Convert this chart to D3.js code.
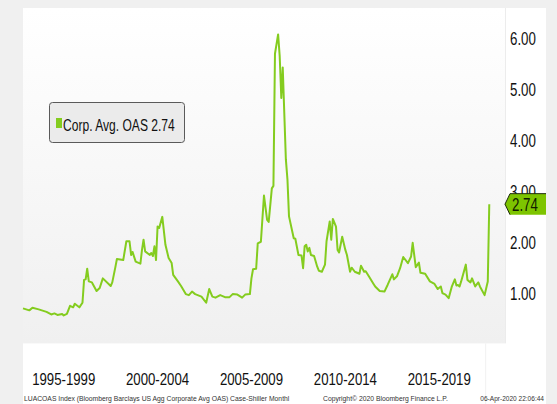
<!DOCTYPE html>
<html>
<head>
<meta charset="utf-8">
<script src="https://cdn.jsdelivr.net/npm/d3@7"></script>
<style>
  html, body { margin: 0; padding: 0; background: #f0f0f0; }
  svg { display: block; }
  text { font-family: "Liberation Sans", Arial, sans-serif; }
</style>
</head>
<body>
<svg id="chart" width="557" height="404"></svg>
<script>
// ---- data ----
const months = [
  "1995-05","1995-09","1995-11","1996-03","1996-08","1996-11","1997-01","1997-03","1997-06","1997-07",
  "1997-09","1997-11","1998-01","1998-02","1998-05","1998-07","1998-08","1998-09","1998-10","1998-11",
  "1999-01","1999-04","1999-06","1999-08","2000-01","2000-02","2000-04","2000-05","2000-09","2000-11",
  "2001-01","2001-02","2001-03","2001-05","2001-08","2001-09","2001-10","2001-11","2002-02","2002-03",
  "2002-04","2002-05","2002-06","2002-07","2002-08","2002-10","2002-12","2003-02","2003-04","2003-05",
  "2003-08","2003-10","2004-01","2004-03","2004-05","2004-07","2004-11","2005-02","2005-04","2005-06",
  "2005-08","2005-11","2006-02","2006-05","2006-07","2006-10","2007-01","2007-03","2007-06","2007-07",
  "2007-08","2007-10","2007-11","2008-01","2008-03","2008-05","2008-06","2008-08","2008-09","2008-10",
  "2008-12","2009-01","2009-02","2009-03","2009-05","2009-06","2009-07","2009-10","2009-11","2010-01",
  "2010-03","2010-04","2010-05","2010-06","2010-07","2010-08","2010-09","2010-11","2011-01","2011-02",
  "2011-04","2011-06","2011-07","2011-09","2011-10","2011-11","2012-01","2012-02","2012-03","2012-05",
  "2012-07","2012-08","2012-10","2012-11","2013-01","2013-04","2013-05","2013-07","2013-08","2013-10",
  "2014-01","2014-02","2014-05","2014-08","2014-10","2015-01","2015-02","2015-04","2015-06","2015-08",
  "2015-11","2016-01","2016-02","2016-04","2016-06","2016-07","2016-10","2017-01","2017-04","2017-06",
  "2017-08","2017-09","2017-11","2018-01","2018-03","2018-05","2018-06","2018-07","2018-08","2018-09",
  "2018-12","2019-01","2019-03","2019-04","2019-06","2019-08","2019-09","2019-12","2020-02","2020-03"
];
const oas = [
  0.69,0.65,0.70,0.67,0.62,0.57,0.59,0.56,0.58,0.55,
  0.58,0.74,0.71,0.78,0.71,0.80,1.25,1.26,1.47,1.22,
  1.20,1.03,1.09,1.28,1.13,1.20,1.50,1.66,1.64,2.01,
  2.01,1.74,1.80,1.61,1.57,1.84,2.04,1.81,1.74,1.78,
  1.72,1.91,1.64,2.30,2.27,2.49,1.94,1.68,1.58,1.35,
  1.22,1.13,0.97,0.95,1.02,0.97,0.92,0.80,1.07,0.92,
  0.90,0.95,0.91,0.91,0.97,0.96,0.90,0.96,0.97,1.28,
  1.46,1.47,1.97,2.00,2.91,2.43,2.39,3.05,3.10,5.70,
  6.08,5.65,4.83,5.43,3.62,3.22,2.50,2.07,2.06,1.74,
  1.73,1.48,1.91,1.94,1.81,1.88,1.74,1.72,1.51,1.43,
  1.41,1.55,2.01,2.40,2.04,2.45,2.30,1.84,1.79,2.10,
  1.84,1.74,1.41,1.49,1.41,1.37,1.53,1.41,1.42,1.32,
  1.17,1.12,1.03,1.02,1.15,1.36,1.26,1.32,1.48,1.70,
  1.58,1.71,1.98,1.50,1.59,1.39,1.37,1.22,1.17,1.07,
  1.12,0.99,0.96,0.89,1.11,1.26,1.14,1.15,1.12,1.22,
  1.55,1.25,1.20,1.28,1.12,1.20,1.12,0.95,1.22,2.74
];
const yTicks = [1, 2, 3, 4, 5, 6];
const periodLabels = ["1995-1999", "2000-2004", "2005-2009", "2010-2014", "2015-2019"];
const periodStarts = [1995, 2000, 2005, 2010, 2015];
const seriesName = "Corp. Avg. OAS";
const lastValue = 2.74;
const footerLeft = "LUACOAS Index (Bloomberg Barclays US Agg Corporate Avg OAS) Case-Shiller  Monthl";
const footerMid = "Copyright\u00A9 2020 Bloomberg Finance L.P.";
const footerRight = "06-Apr-2020 22:06:44";

// ---- layout ----
const W = 557, H = 404;
const panel = { x: 23, y: 8, w: 523, h: 396 };
const plot = { left: 23, right: 505, top: 8, bottom: 343.4 };
const lineColor = "#84cc1f";
const narrow = 0.74;

const parse = d3.timeParse("%Y-%m");
const data = months.map((m, i) => ({ date: parse(m), value: oas[i] }));

const x = d3.scaleTime()
  .domain([parse("1995-05"), parse("2021-01")])
  .range([plot.left, plot.right]);
const y = d3.scaleLinear()
  .domain([0, 6.6])
  .range([plot.bottom, plot.top]);

const svg = d3.select("#chart");

// outer background
svg.append("rect").attr("width", W).attr("height", H).attr("fill", "#f0f0f0");
// white panel
svg.append("rect").attr("x", panel.x).attr("y", panel.y)
  .attr("width", panel.w).attr("height", panel.h).attr("fill", "#ffffff");

// plot gradient
const defs = svg.append("defs");
const grad = defs.append("linearGradient").attr("id", "bg")
  .attr("x1", 0).attr("y1", 0).attr("x2", 0).attr("y2", 1);
grad.append("stop").attr("offset", "0%").attr("stop-color", "#ffffff");
grad.append("stop").attr("offset", "100%").attr("stop-color", "#f0f0f0");
svg.append("rect").attr("x", plot.left).attr("y", plot.top)
  .attr("width", plot.right - plot.left).attr("height", plot.bottom - plot.top)
  .attr("fill", "url(#bg)");
svg.append("line").attr("x1", plot.right + 0.5).attr("x2", plot.right + 0.5)
  .attr("y1", plot.top).attr("y2", plot.bottom)
  .attr("stroke", "#ececec").attr("stroke-width", 1);
// faint separator below plot
svg.append("line").attr("x1", x(parse("2020-01")) - 0.5).attr("x2", x(parse("2020-01")) - 0.5)
  .attr("y1", plot.bottom).attr("y2", H)
  .attr("stroke", "#f1f1f1").attr("stroke-width", 1);

// series line
const line = d3.line().x(d => x(d.date)).y(d => y(d.value));
svg.append("path").datum(data)
  .attr("d", line)
  .attr("fill", "none")
  .attr("stroke", lineColor)
  .attr("stroke-width", 2)
  .attr("stroke-linejoin", "round");

// right axis (the 3.00 label sits partly behind the value tag, as in the reference)
const yAxis = d3.axisRight(y).tickValues(yTicks).tickFormat(d3.format(".2f"))
  .tickSize(0).tickPadding(0);
const gy = svg.append("g").attr("transform", "translate(510,0)").call(yAxis);
gy.select(".domain").remove();
gy.selectAll("text")
  .attr("x", 0).attr("dy", "0.36em")
  .attr("transform", `scale(${narrow},1)`)
  .attr("font-size", 18).attr("fill", "#111")
  .attr("font-family", "Liberation Sans, Arial, sans-serif")
  .attr("text-anchor", "start");

// last value tag
const ty = y(lastValue);
const tagL = 505, tagR = 546, tagH = 21;
svg.append("path")
  .attr("d", `M${tagL},${ty} L${tagL + 5},${ty - tagH / 2} L${tagR},${ty - tagH / 2} L${tagR},${ty + tagH / 2} L${tagL + 5},${ty + tagH / 2} Z`)
  .attr("fill", "#7dc400");
svg.append("path")
  .attr("d", `M${tagL + 5},${ty + tagH / 2} L${tagL},${ty} L${tagL + 5},${ty - tagH / 2} L${tagR},${ty - tagH / 2}`)
  .attr("fill", "none").attr("stroke", "#1d2a0a").attr("stroke-width", 1);
svg.append("text")
  .attr("transform", `translate(512,${ty}) scale(${narrow},1)`)
  .attr("dy", "0.36em")
  .attr("font-size", 18).attr("fill", "#0f1a00")
  .text(d3.format(".2f")(lastValue));

// x period labels
svg.selectAll("text.period").data(periodLabels).join("text")
  .attr("class", "period")
  .attr("transform", (d, i) => `translate(${x(new Date(periodStarts[i] + 2, 6, 1))},385) scale(0.8,1)`)
  .attr("text-anchor", "middle")
  .attr("font-size", 16.5).attr("fill", "#111")
  .text(d => d);

// legend
const lg = svg.append("g");
lg.append("rect").attr("x", 49.5).attr("y", 102.5).attr("width", 135).attr("height", 40)
  .attr("rx", 3).attr("fill", "#ebebeb").attr("stroke", "#5a5a5a").attr("stroke-width", 1);
lg.append("rect").attr("x", 56).attr("y", 118).attr("width", 6).attr("height", 10).attr("fill", lineColor);
lg.append("text")
  .attr("transform", "translate(63,131) scale(0.71,1)")
  .attr("font-size", 17).attr("fill", "#111")
  .text(`${seriesName} ${d3.format(".2f")(lastValue)}`);

// footer
svg.append("text").attr("transform", "translate(24,401) scale(0.85,1)")
  .attr("font-size", 8).attr("fill", "#333").text(footerLeft);
svg.append("text").attr("transform", "translate(323,401) scale(0.85,1)")
  .attr("font-size", 8).attr("fill", "#333").text(footerMid);
svg.append("text").attr("transform", "translate(544,401) scale(0.82,1)")
  .attr("text-anchor", "end")
  .attr("font-size", 8).attr("fill", "#333").text(footerRight);
</script>
</body>
</html>
